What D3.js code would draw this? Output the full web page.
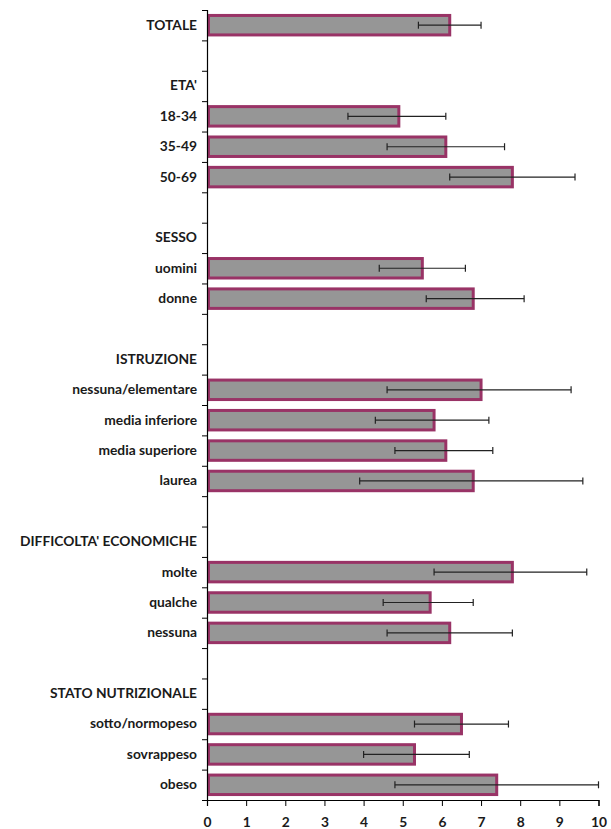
<!DOCTYPE html>
<html>
<head>
<meta charset="utf-8">
<script src="https://cdn.jsdelivr.net/npm/d3@7"></script>
<style>
  html, body { margin: 0; padding: 0; background: #fff; }
  svg { display: block; }
  text { font-family: Lato, "Open Sans", sans-serif; font-weight: 700; fill: #1a1a1a; }
</style>
</head>
<body>
<svg id="chart" width="611" height="829"></svg>
<script>
// Row labels, top to bottom; empty strings are spacer rows between groups
const labels = [
  "TOTALE", "",
  "ETA'", "18-34", "35-49", "50-69", "",
  "SESSO", "uomini", "donne", "",
  "ISTRUZIONE", "nessuna/elementare", "media inferiore", "media superiore", "laurea", "",
  "DIFFICOLTA' ECONOMICHE", "molte", "qualche", "nessuna", "",
  "STATO NUTRIZIONALE", "sotto/normopeso", "sovrappeso", "obeso"
];
// Percentages (null = heading or spacer row, no bar)
const values = [
  6.2, null,
  null, 4.9, 6.1, 7.8, null,
  null, 5.5, 6.8, null,
  null, 7.0, 5.8, 6.1, 6.8, null,
  null, 7.8, 5.7, 6.2, null,
  null, 6.5, 5.3, 7.4
];
// 95% confidence interval bounds
const lower = [
  5.4, null,
  null, 3.6, 4.6, 6.2, null,
  null, 4.4, 5.6, null,
  null, 4.6, 4.3, 4.8, 3.9, null,
  null, 5.8, 4.5, 4.6, null,
  null, 5.3, 4.0, 4.8
];
const upper = [
  7.0, null,
  null, 6.1, 7.6, 9.4, null,
  null, 6.6, 8.1, null,
  null, 9.3, 7.2, 7.3, 9.6, null,
  null, 9.7, 6.8, 7.8, null,
  null, 7.7, 6.7, 10.0
];
const xTicks = [0, 1, 2, 3, 4, 5, 6, 7, 8, 9, 10];

const rows = labels.map((label, i) => ({
  key: "r" + i, label, value: values[i], lo: lower[i], hi: upper[i]
}));

const svg = d3.select("#chart");
const plotLeft = 207, plotRight = 598.5, plotTop = 10, plotBottom = 800;
const fontSize = 13.8;

const x = d3.scaleLinear().domain([0, 10]).range([plotLeft, plotRight]);
const y = d3.scaleBand()
  .domain(rows.map(d => d.key))
  .range([plotTop, plotBottom])
  .paddingInner(0.26)
  .paddingOuter(0.13);
// boundaries between rows, for the category-axis tick marks
const yEdge = d3.scaleLinear().domain([0, rows.length]).range([plotTop, plotBottom]);

// Bars
const bw = 3;
svg.append("g").selectAll("rect")
  .data(rows.filter(d => d.value != null))
  .join("rect")
  .attr("x", x(0) + bw / 2)
  .attr("y", d => y(d.key) + bw / 2)
  .attr("width", d => x(d.value) - x(0) - bw / 2)
  .attr("height", y.bandwidth() - bw)
  .attr("fill", "#969696")
  .attr("stroke", "#993366")
  .attr("stroke-width", bw);

// Error bars
const eb = svg.append("g").attr("stroke", "#222").attr("stroke-width", 1.2);
const withCI = rows.filter(d => d.lo != null);
const cy = d => y(d.key) + y.bandwidth() / 2;
eb.selectAll("line.ci").data(withCI).join("line").attr("class", "ci")
  .attr("x1", d => x(d.lo)).attr("x2", d => x(d.hi))
  .attr("y1", cy).attr("y2", cy);
eb.selectAll("line.lo").data(withCI).join("line").attr("class", "lo")
  .attr("x1", d => x(d.lo)).attr("x2", d => x(d.lo))
  .attr("y1", d => cy(d) - 3.5).attr("y2", d => cy(d) + 3.5);
eb.selectAll("line.hi").data(withCI).join("line").attr("class", "hi")
  .attr("x1", d => x(d.hi)).attr("x2", d => x(d.hi))
  .attr("y1", d => cy(d) - 3.5).attr("y2", d => cy(d) + 3.5);

// Category axis: tick marks at row boundaries
const yTickAxis = d3.axisLeft(yEdge)
  .tickValues(d3.range(rows.length + 1))
  .tickSize(5)
  .tickFormat("");
const gy = svg.append("g").attr("transform", `translate(${plotLeft},0)`).call(yTickAxis);
gy.select(".domain").attr("stroke", "#000").attr("stroke-width", 1.2);
gy.selectAll(".tick line").attr("stroke", "#000");

// Category labels
const yLabelAxis = d3.axisLeft(y).tickSize(0).tickPadding(10)
  .tickFormat((k, i) => rows[i].label);
const gl = svg.append("g").attr("transform", `translate(${plotLeft},0)`).call(yLabelAxis);
gl.select(".domain").remove();
gl.selectAll("text").attr("font-size", fontSize).attr("fill", "#111")
  .style("font-family", "Lato, 'Open Sans', sans-serif").style("font-weight", 700);

// Value axis
const xAxis = d3.axisBottom(x).tickValues(xTicks).tickSize(6).tickPadding(11)
  .tickFormat(d3.format("d"));
const gx = svg.append("g").attr("transform", `translate(0,${plotBottom})`).call(xAxis);
gx.select(".domain").attr("stroke", "#000").attr("stroke-width", 1.2);
gx.selectAll(".tick line").attr("stroke", "#000");
gx.selectAll("text").attr("font-size", fontSize).attr("fill", "#111")
  .style("font-family", "Lato, 'Open Sans', sans-serif").style("font-weight", 700);
</script>
</body>
</html>
